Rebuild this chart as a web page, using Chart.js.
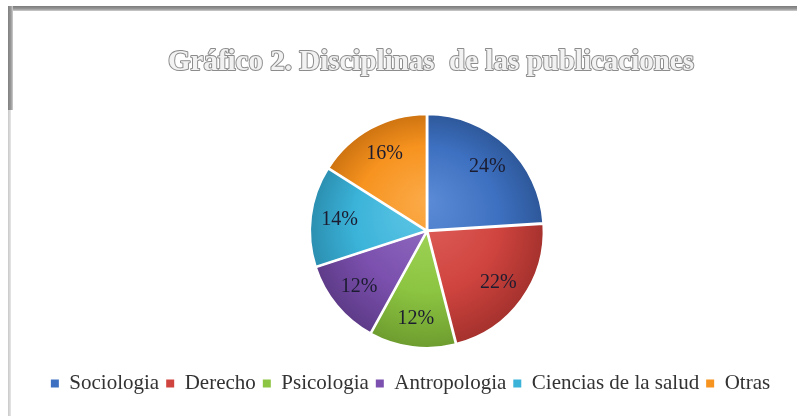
<!DOCTYPE html>
<html>
<head>
<meta charset="utf-8">
<script src="https://cdn.jsdelivr.net/npm/chart.js@4.4.0/dist/chart.umd.min.js"></script>
<style>
  html, body { margin: 0; padding: 0; background: #ffffff; }
  #wrap { position: relative; width: 797px; height: 416px; overflow: hidden; background: #fff; }
  #topbar { position: absolute; left: 8px; top: 6px; width: 789px; height: 5px;
    background: linear-gradient(#7a7a7a, #9a9a9a 60%, #cfcfcf); }
  #leftbar { position: absolute; left: 8px; top: 6px; width: 5px; height: 104px;
    background: linear-gradient(90deg, #808080, #9a9a9a 60%, #d0d0d0); }
  #leftbar2 { position: absolute; left: 8px; top: 110px; width: 3px; height: 306px;
    background: linear-gradient(90deg, #c8c8c8, #e6e6e6); }
  canvas { position: absolute; left: 0; top: 0; }
</style>
</head>
<body>
<div id="wrap">
  <div id="topbar"></div>
  <div id="leftbar"></div>
  <div id="leftbar2"></div>
  <canvas id="c" width="797" height="416"></canvas>
</div>
<script>
const titleText = 'Gráfico 2. Disciplinas  de las publicaciones';
const categories = ['Sociologia', 'Derecho', 'Psicologia', 'Antropologia', 'Ciencias de la salud', 'Otras'];
const percentages = [24, 22, 12, 12, 14, 16];
const sliceColors = ['#3d70c0', '#d0443f', '#8cc541', '#7b50ae', '#3bb3d9', '#f7931f'];
const sliceEdges  = ['#2c5596', '#a2302c', '#6c9a2e', '#5c3a86', '#2a8cad', '#c9700f'];
const sliceLights = ['#5b8bd6', '#e0625c', '#a6d85f', '#9470c4', '#62c8e6', '#fbaa48'];

const spacer = {
  id: 'spacer',
  beforeInit(chart) {
    Chart.layouts.addBox(chart, {
      position: 'left', weight: 0, fullSize: false, options: {},
      left: 0, top: 0, right: 0, bottom: 0, width: 0, height: 0,
      update(maxW, maxH) { this.width = 33; this.height = maxH; },
      isHorizontal() { return false; },
      getPadding() { return { left: 0, right: 0, top: 0, bottom: 0 }; },
      draw() {}
    });
  }
};

const outlineTitle = {
  id: 'outlineTitle',
  afterDraw(chart) {
    const tb = chart.titleBlock;
    if (!tb) return;
    const ctx = chart.ctx;
    const opts = chart.options.plugins.title;
    const ca = chart.chartArea;
    ctx.save();
    ctx.font = 'bold 29px "Liberation Serif", "DejaVu Serif", serif';
    ctx.textAlign = 'center';
    ctx.textBaseline = 'middle';
    const x = (ca.left + ca.right) / 2 + 4;
    const y = tb.top + opts.padding.top + 17.4;
    ctx.lineJoin = 'round';
    ctx.lineWidth = 2;
    ctx.strokeStyle = '#8c8c8c';
    ctx.strokeText(opts.text, x, y);
    ctx.fillStyle = '#f2f2f2';
    ctx.fillText(opts.text, x, y);
    ctx.restore();
  }
};

const pctLabels = {
  id: 'pctLabels',
  afterDatasetsDraw(chart) {
    const ctx = chart.ctx;
    const meta = chart.getDatasetMeta(0);
    ctx.save();
    ctx.font = '20px "Liberation Serif", "Times New Roman", serif';
    ctx.textAlign = 'center';
    ctx.textBaseline = 'middle';
    ctx.fillStyle = '#1c1c30';
    meta.data.forEach((arc, i) => {
      const p = arc.getProps(['x', 'y', 'startAngle', 'endAngle', 'outerRadius'], true);
      const mid = (p.startAngle + p.endAngle) / 2;
      const r = p.outerRadius * 0.76;
      ctx.fillText(percentages[i] + '%', p.x + Math.cos(mid) * r, p.y + Math.sin(mid) * r);
    });
    ctx.restore();
  }
};

function shaded(ctx) {
  const i = ctx.dataIndex;
  const chart = ctx.chart;
  const ca = chart.chartArea;
  if (!ca) return sliceColors[i];
  const cx = (ca.left + ca.right) / 2, cy = (ca.top + ca.bottom) / 2;
  const g = chart.ctx.createRadialGradient(cx, cy - 30, 0, cx, cy, 120);
  g.addColorStop(0, sliceLights[i]);
  g.addColorStop(0.6, sliceColors[i]);
  g.addColorStop(1, sliceEdges[i]);
  return g;
}

new Chart(document.getElementById('c'), {
  type: 'pie',
  data: {
    labels: categories,
    datasets: [{
      data: percentages,
      backgroundColor: shaded,
      borderColor: '#ffffff',
      borderWidth: 2,
      offset: 3,
      radius: 116
    }]
  },
  options: {
    responsive: false,
    animation: false,
    events: [],
    layout: { padding: { left: 24, right: 0, top: 0, bottom: 12 } },
    plugins: {
      title: {
        display: true,
        text: titleText,
        color: 'rgba(0,0,0,0)',
        font: { family: '"Liberation Serif", serif', size: 29, weight: 'bold' },
        padding: { top: 45, bottom: 16 }
      },
      legend: {
        position: 'bottom',
        labels: {
          font: { family: '"Liberation Serif", "Times New Roman", serif', size: 21 },
          color: '#333333',
          boxWidth: 8,
          boxHeight: 8,
          padding: 7,
          generateLabels(chart) {
            const items = Chart.overrides.pie.plugins.legend.labels.generateLabels(chart);
            items.forEach((it, i) => { it.lineWidth = 0; it.strokeStyle = 'rgba(0,0,0,0)'; it.fillStyle = sliceColors[i]; });
            return items;
          }
        }
      },
      tooltip: { enabled: false }
    }
  },
  plugins: [spacer, outlineTitle, pctLabels]
});
</script>
</body>
</html>
